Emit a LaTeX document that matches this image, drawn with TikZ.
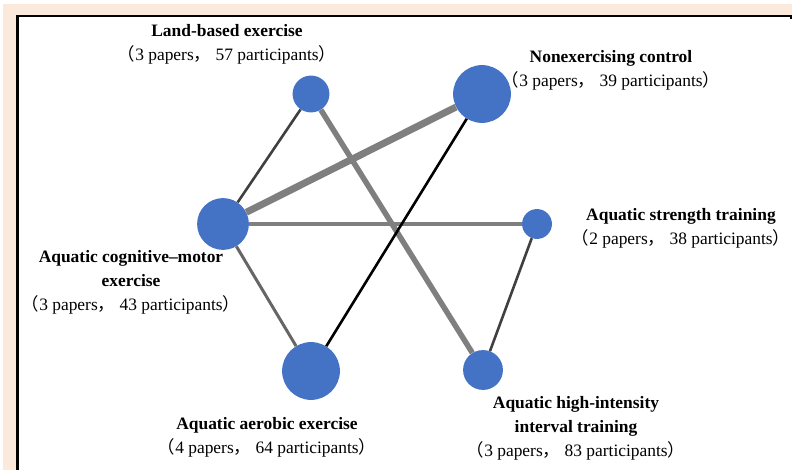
\documentclass[tikz,border=0pt]{standalone}
\usepackage{fontspec}
\setmainfont{Liberation Serif}
\newfontfamily\cjk{Noto Sans CJK SC}
\definecolor{armblue}{HTML}{4472C4}
\definecolor{peach}{RGB}{251,234,219}
\definecolor{gridgray}{HTML}{7F7F7F}
\definecolor{darkline}{HTML}{404040}
\newcommand{\tagfont}{\fontsize{17.5}{24}\selectfont}
\newcommand{\papers}[2]{{\cjk （}#1 papers{\cjk ，}\kern0.25em#2 participants{\cjk ）}}
\tikzset{
  arm/.style={circle, fill=armblue, inner sep=0pt, minimum size=#1},
  tag/.style={align=center, font=\tagfont},
  link/.style={line width=#1},
}
\begin{document}
\begin{tikzpicture}[x=1bp, y=-1bp]
        \useasboundingbox (0,0) rectangle (792,470);
        % Cornice
        \fill[peach] (3,4) rectangle (792,470);
        \fill[white] (17,16) rectangle (792,470);
        \draw[line width=1.5] (17,472) -- (17,16) -- (791,16) -- (791,19);
        \draw[line width=3] (18,16) -- (18,472);

        % Nodi
        \node[arm=37] (lb) at (311,94) {};
        \node[arm=58] (nc) at (482,94) {};
        \node[arm=52] (acm) at (223,224) {};
        \node[arm=30] (ast) at (537,224) {};
        \node[arm=58] (aa) at (311,371) {};
        \node[arm=40] (hiit) at (483,370) {};

        % Confronti
        \draw[link=7, gridgray] (acm) -- (nc);
        \draw[link=5.5, gridgray] (lb) -- (hiit);
        \draw[link=3.5, gridgray] (acm) -- (ast);
        \draw[link=3, darkline!80] (acm) -- (aa);
        \draw[link=2.6, darkline] (acm) -- (lb);
        \draw[link=2.6, black] (nc) -- (aa);
        \draw[link=2.6, darkline] (ast) -- (hiit);

        % Etichette
        \node[tag] (lb-tag) at (227,44.5) {\textbf{Land-based exercise}\\\papers{3}{57}};
        \node[tag] (nc-tag) at (611,70) {\textbf{Nonexercising control}\\\papers{3}{39}};
        \node[tag] (ast-tag) at (681,228.5) {\textbf{Aquatic strength training}\\\papers{2}{38}};
        \node[tag] (acm-tag) at (131,282) {\textbf{Aquatic cognitive–motor}\\\textbf{exercise}\\\papers{3}{43}};
        \node[tag] (aa-tag) at (267,437.5) {\textbf{Aquatic aerobic exercise}\\\papers{4}{64}};
        \node[tag] (hiit-tag) at (576,428) {\textbf{Aquatic high-intensity}\\\textbf{interval training}\\\papers{3}{83}};
\end{tikzpicture}
\end{document}
